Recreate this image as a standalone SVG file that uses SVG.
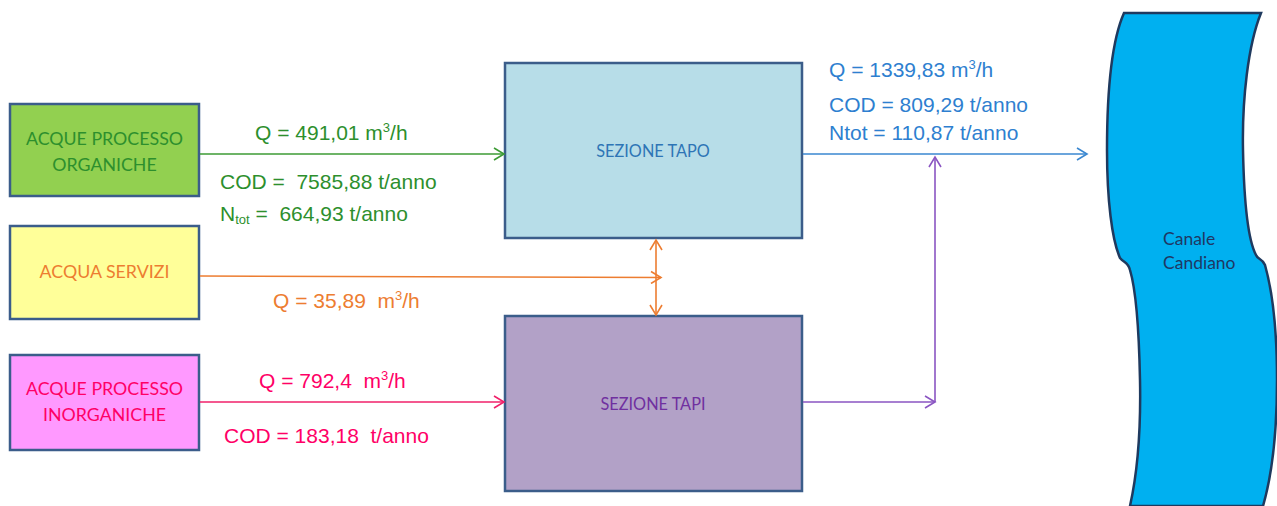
<svg xmlns="http://www.w3.org/2000/svg" width="1277" height="506" viewBox="0 0 1277 506">
<defs>
<style>
.box{stroke:#3b5d8a;stroke-width:2.5}
.bl{font-family:Lato,"Liberation Sans",sans-serif;font-size:17.8px;text-anchor:middle}
.sl{font-family:Lato,"Liberation Sans",sans-serif;font-size:16.3px;text-anchor:middle}
.num{font-family:"Liberation Sans",Arial,sans-serif;font-size:21px}
.ln{fill:none;stroke-width:1.6}
</style>
<marker id="mg" markerUnits="userSpaceOnUse" markerWidth="14" markerHeight="14" refX="11" refY="7" orient="auto-start-reverse"><path d="M1,1 L11,7 L1,13" fill="none" stroke="#3c9b34" stroke-width="1.6"/></marker>
<marker id="mo" markerUnits="userSpaceOnUse" markerWidth="14" markerHeight="14" refX="11" refY="7" orient="auto-start-reverse"><path d="M1,1 L11,7 L1,13" fill="none" stroke="#ed7d31" stroke-width="1.6"/></marker>
<marker id="mp" markerUnits="userSpaceOnUse" markerWidth="14" markerHeight="14" refX="11" refY="7" orient="auto-start-reverse"><path d="M1,1 L11,7 L1,13" fill="none" stroke="#f0206a" stroke-width="1.6"/></marker>
<marker id="mv" markerUnits="userSpaceOnUse" markerWidth="14" markerHeight="14" refX="11" refY="7" orient="auto-start-reverse"><path d="M1,1 L11,7 L1,13" fill="none" stroke="#8a55c2" stroke-width="1.6"/></marker>
<marker id="mb" markerUnits="userSpaceOnUse" markerWidth="14" markerHeight="14" refX="11" refY="7" orient="auto-start-reverse"><path d="M1,1 L11,7 L1,13" fill="none" stroke="#3a87d0" stroke-width="1.6"/></marker>
</defs>
<rect width="1277" height="506" fill="#ffffff"/>

<g id="canale">
<path d="M1124,13 L1261,13 C1248,45 1242,100 1243,150 C1244,200 1248,240 1256,255 C1258,260 1262,258 1265,265 C1272,290 1277,330 1277,380 C1277,430 1272,475 1263,506 L1130,506 C1138,470 1141,430 1140,380 C1139,330 1136,290 1130,270 C1128,262 1124,263 1120,258 C1112,240 1107,200 1107,150 C1107,90 1112,40 1124,13 Z" fill="#00b0f0" stroke="#1f3a5f" stroke-width="2.5"/>
<text class="sl" x="1163" y="245" fill="#1f3864" style="text-anchor:start;font-size:17.5px">Canale</text>
<text class="sl" x="1163" y="269" fill="#1f3864" style="text-anchor:start;font-size:17.5px">Candiano</text>
</g>

<g id="acque-organiche">
<rect class="box" x="10" y="104" width="189" height="92" fill="#92d050"/>
<text class="bl" x="104.5" y="145" fill="#2d8f2d">ACQUE PROCESSO</text>
<text class="bl" x="104.5" y="171" fill="#2d8f2d">ORGANICHE</text>
</g>

<g id="acqua-servizi">
<rect class="box" x="10" y="226" width="189" height="93" fill="#ffff99"/>
<text class="bl" x="104.5" y="278" fill="#ed7d31">ACQUA SERVIZI</text>
</g>

<g id="acque-inorganiche">
<rect class="box" x="10" y="355" width="189" height="95" fill="#ff99ff"/>
<text class="bl" x="104.5" y="395" fill="#ff0066">ACQUE PROCESSO</text>
<text class="bl" x="104.5" y="421" fill="#ff0066">INORGANICHE</text>
</g>

<g id="sezione-tapo">
<rect class="box" x="505" y="63" width="297" height="175" fill="#b7dde8"/>
<text class="sl" x="653" y="157" fill="#2e75b6">SEZIONE TAPO</text>
</g>

<g id="sezione-tapi">
<rect class="box" x="505" y="316" width="297" height="175" fill="#b2a1c7"/>
<text class="sl" x="653" y="410" fill="#7030a0">SEZIONE TAPI</text>
</g>

<g id="connectors">
<line class="ln" x1="200" y1="154" x2="504" y2="154" stroke="#3c9b34" marker-end="url(#mg)"/>
<line class="ln" x1="200" y1="276" x2="661" y2="277.5" stroke="#ed7d31" marker-end="url(#mo)"/>
<line class="ln" x1="656" y1="240" x2="656" y2="315" stroke="#ed7d31" marker-start="url(#mo)" marker-end="url(#mo)"/>
<line class="ln" x1="200" y1="402" x2="504" y2="402" stroke="#f0206a" marker-end="url(#mp)"/>
<line class="ln" x1="803" y1="402" x2="935" y2="402" stroke="#8a55c2" marker-end="url(#mv)"/>
<line class="ln" x1="935" y1="402" x2="935" y2="157" stroke="#8a55c2" marker-end="url(#mv)"/>
<line class="ln" x1="803" y1="154" x2="1087" y2="154" stroke="#3a87d0" marker-end="url(#mb)"/>
</g>

<g id="labels">
<text class="num" x="255" y="140" fill="#2d8f2d">Q = 491,01 m<tspan font-size="13" dy="-8">3</tspan><tspan dy="8">/h</tspan></text>
<text class="num" x="220" y="189" fill="#2d8f2d" xml:space="preserve">COD =  7585,88 t/anno</text>
<text class="num" x="220" y="221" fill="#2d8f2d" xml:space="preserve">N<tspan font-size="13" dy="3">tot</tspan><tspan dy="-3"> =  664,93 t/anno</tspan></text>
<text class="num" x="273" y="308" fill="#ed7d31" xml:space="preserve">Q = 35,89  m<tspan font-size="13" dy="-8">3</tspan><tspan dy="8">/h</tspan></text>
<text class="num" x="259" y="388" fill="#ff0066" xml:space="preserve">Q = 792,4  m<tspan font-size="13" dy="-8">3</tspan><tspan dy="8">/h</tspan></text>
<text class="num" x="224" y="443" fill="#ff0066" xml:space="preserve">COD = 183,18  t/anno</text>
<text class="num" x="829" y="77" fill="#2e7fd0">Q = 1339,83 m<tspan font-size="13" dy="-8">3</tspan><tspan dy="8">/h</tspan></text>
<text class="num" x="829" y="112" fill="#2e7fd0">COD = 809,29 t/anno</text>
<text class="num" x="829" y="140" fill="#2e7fd0">Ntot = 110,87 t/anno</text>
</g>
</svg>
